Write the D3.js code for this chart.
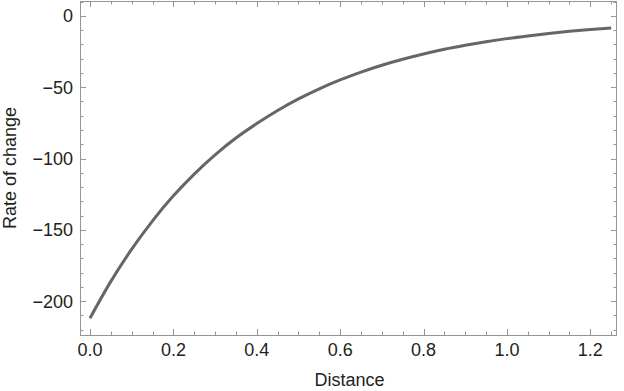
<!DOCTYPE html>
<html>
<head>
<meta charset="utf-8">
<script src="https://cdn.jsdelivr.net/npm/d3@7"></script>
<style>
  body { margin: 0; background: #fff; }
  text { font-family: "Liberation Sans", Arial, sans-serif; fill: #231f20; }
</style>
</head>
<body>
<svg id="chart"></svg>
<script>
// values
const distance = [0, 0.05, 0.1, 0.15, 0.2, 0.25, 0.3, 0.35, 0.4, 0.45, 0.5, 0.55, 0.6,
  0.65, 0.7, 0.75, 0.8, 0.85, 0.9, 0.95, 1.0, 1.05, 1.1, 1.15, 1.2, 1.25];
const rate = [-212, -186.2, -163.6, -143.7, -126.2, -110.9, -97.4, -85.6, -75.5, -66.3,
  -58.2, -51.1, -44.9, -39.4, -34.6, -30.4, -26.7, -23.4, -20.6, -18.1, -15.9, -14.0,
  -12.3, -10.8, -9.5, -8.4];
const xTicks = [0, 0.2, 0.4, 0.6, 0.8, 1.0, 1.2];
const yTicks = [0, -50, -100, -150, -200];

const W = 624, H = 391;
const svg = d3.select("#chart").attr("width", W).attr("height", H);

const fLeft = 80, fRight = 617, fTop = 1, fBottom = 335;

const x = d3.scaleLinear().domain([-0.024, 1.264]).range([fLeft, fRight]);
const y = d3.scaleLinear().domain([-223.8, 10.5]).range([fBottom, fTop]);

const frameColor = "#959595";

// minor ticks
const xMinor = d3.range(0, 1.2501, 0.05);
const yMinor = d3.range(-220, 10.01, 10);

const g = svg.append("g");

function ticks(vals, major, scale, horiz) {
  vals.forEach(v => {
    const isMajor = major.some(m => Math.abs(m - v) < 1e-6);
    const len = isMajor ? 6 : 3.5;
    const p = Math.round(scale(v)) + 0.5;
    if (horiz) {
      g.append("line").attr("x1", p).attr("x2", p).attr("y1", fBottom).attr("y2", fBottom - len)
        .attr("stroke", frameColor);
      g.append("line").attr("x1", p).attr("x2", p).attr("y1", fTop).attr("y2", fTop + len)
        .attr("stroke", frameColor);
    } else {
      g.append("line").attr("y1", p).attr("y2", p).attr("x1", fLeft).attr("x2", fLeft + len)
        .attr("stroke", frameColor);
      g.append("line").attr("y1", p).attr("y2", p).attr("x1", fRight).attr("x2", fRight - len)
        .attr("stroke", frameColor);
    }
  });
}
ticks(xMinor, xTicks, x, true);
ticks(yMinor, yTicks, y, false);

// frame
g.append("rect")
  .attr("x", fLeft + 0.5).attr("y", fTop + 0.5)
  .attr("width", fRight - fLeft - 1).attr("height", fBottom - fTop)
  .attr("fill", "none").attr("stroke", frameColor);

// tick labels
g.selectAll(".xl").data(xTicks).enter().append("text")
  .attr("x", d => x(d)).attr("y", 356)
  .attr("text-anchor", "middle").attr("font-size", 18)
  .text(d => d3.format(".1f")(d));

g.selectAll(".yl").data(yTicks).enter().append("text")
  .attr("x", 73).attr("y", d => y(d)).attr("dy", "0.36em")
  .attr("text-anchor", "end").attr("font-size", 18)
  .text(d => d3.format("d")(d).replace("-", "\u2212"));

// axis titles
svg.append("text").attr("x", (fLeft + fRight) / 2 + 1).attr("y", 386)
  .attr("text-anchor", "middle").attr("font-size", 18).text("Distance");
svg.append("text")
  .attr("transform", `translate(16,${(fTop + fBottom) / 2}) rotate(-90)`)
  .attr("text-anchor", "middle").attr("font-size", 18).text("Rate of change");

// curve
const line = d3.line()
  .x((d, i) => x(distance[i]))
  .y(d => y(d))
  .curve(d3.curveMonotoneX);

svg.append("path")
  .datum(rate)
  .attr("d", line)
  .attr("fill", "none")
  .attr("stroke", "#666666")
  .attr("stroke-width", 3);
</script>
</body>
</html>
